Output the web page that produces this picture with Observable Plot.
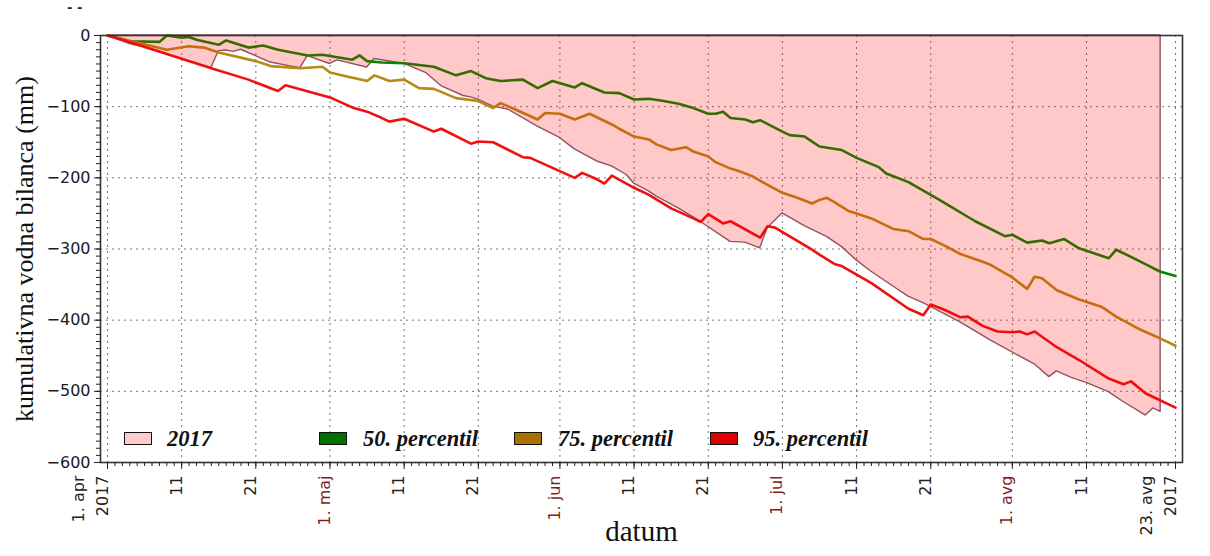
<!DOCTYPE html>
<html>
<head>
<meta charset="utf-8">
<script src="https://cdn.jsdelivr.net/npm/d3@7"></script>
<script src="https://cdn.jsdelivr.net/npm/@observablehq/plot@0.6"></script>
<style>
  html, body { margin: 0; padding: 0; background: #fff; }
  #wrap { position: relative; width: 1210px; height: 556px; }
  .lg-box { position: absolute; width: 26px; height: 11px; border: 1.5px solid #111; }
  .lg-txt { position: absolute; font-family: "Liberation Serif", serif; font-weight: bold; font-style: italic; font-size: 22.5px; line-height: 22px; color: #111; white-space: nowrap; }
</style>
</head>
<body>
<div id="wrap"></div>
<script>
// ---- data (dates as MM-DD in 2017, values in mm) ----
const series2017Dates = ["04-01","04-04","04-06","04-10","04-15","04-16","04-17","04-18","04-19","04-21","04-23","04-26","04-27","04-28","05-01","05-02","05-06","05-07","05-11","05-14","05-16","05-19","05-20","05-21","05-23","05-25","05-29","06-01","06-03","06-06","06-08","06-10","06-11","06-13","06-14","06-17","06-20","06-24","06-26","06-28","06-29","07-01","07-04","07-07","07-09","07-11","07-13","07-16","07-18","07-20","07-25","07-29","08-02","08-04","08-06","08-07","08-09","08-11","08-14","08-16","08-19","08-20","08-21"];
const series2017Values = [0,-12,-17,-30,-46,-22,-21,-23,-20,-29,-38,-44,-46,-29,-40,-35,-45,-33,-40,-53,-71,-85,-87,-90,-100,-104,-128,-144,-160,-177,-184,-196,-208,-219,-226,-243,-262,-290,-291,-299,-271,-250,-268,-283,-297,-316,-332,-353,-367,-376,-403,-428,-451,-462,-480,-472,-481,-488,-501,-515,-534,-524,-529];

const p50Dates = ["04-01","04-04","04-08","04-09","04-11","04-12","04-13","04-16","04-17","04-20","04-22","04-24","04-28","04-30","05-04","05-05","05-06","05-08","05-11","05-15","05-18","05-20","05-22","05-24","05-27","05-29","05-31","06-03","06-04","06-07","06-09","06-11","06-13","06-15","06-17","06-19","06-21","06-22","06-23","06-24","06-26","06-27","06-28","07-01","07-02","07-04","07-06","07-09","07-11","07-14","07-15","07-18","07-22","07-27","07-31","08-01","08-03","08-05","08-06","08-08","08-10","08-14","08-15","08-17","08-20","08-21","08-23"];
const p50Values = [0,-8,-9,0,-3,-2,-6,-13,-7,-17,-14,-20,-28,-27,-34,-28,-36,-38,-39,-44,-56,-50,-60,-64,-62,-74,-64,-73,-67,-80,-81,-90,-89,-92,-96,-102,-110,-110,-107,-116,-118,-122,-119,-135,-140,-142,-156,-161,-172,-185,-194,-206,-230,-261,-282,-280,-291,-288,-292,-286,-299,-313,-301,-311,-327,-332,-338];

const p75Dates = ["04-01","04-09","04-12","04-14","04-16","04-21","04-23","04-27","04-30","05-01","05-03","05-06","05-07","05-09","05-11","05-13","05-15","05-18","05-21","05-23","05-24","05-26","05-29","05-30","06-01","06-03","06-05","06-08","06-09","06-11","06-13","06-14","06-16","06-18","06-19","06-21","06-22","06-24","06-25","06-27","06-29","07-01","07-03","07-05","07-06","07-07","07-08","07-10","07-11","07-13","07-16","07-18","07-20","07-21","07-23","07-25","07-28","07-29","08-01","08-03","08-04","08-05","08-07","08-10","08-13","08-15","08-18","08-21","08-23"];
const p75Values = [0,-20,-15,-17,-24,-36,-43,-46,-44,-52,-57,-64,-56,-64,-62,-74,-75,-88,-92,-102,-95,-104,-118,-109,-110,-118,-110,-125,-131,-142,-146,-153,-161,-157,-163,-170,-178,-187,-190,-198,-210,-221,-228,-236,-231,-228,-234,-247,-250,-257,-272,-275,-286,-286,-296,-307,-318,-322,-340,-356,-339,-341,-358,-371,-381,-395,-412,-426,-436];

const p95Dates = ["04-01","04-04","04-09","04-15","04-20","04-23","04-24","04-25","05-01","05-04","05-06","05-08","05-09","05-11","05-15","05-16","05-20","05-21","05-23","05-27","05-28","06-03","06-04","06-06","06-07","06-08","06-11","06-13","06-16","06-19","06-20","06-21","06-23","06-24","06-28","06-29","06-30","07-05","07-06","07-08","07-09","07-13","07-18","07-20","07-21","07-23","07-25","07-26","07-28","07-30","08-01","08-02","08-03","08-04","08-07","08-10","08-14","08-16","08-17","08-19","08-23"];
const p95Values = [0,-9,-26,-46,-62,-74,-78,-70,-87,-101,-107,-116,-121,-117,-135,-131,-152,-149,-150,-171,-172,-200,-193,-202,-208,-197,-214,-224,-243,-257,-262,-251,-264,-261,-284,-268,-270,-301,-308,-321,-324,-348,-384,-393,-378,-386,-396,-395,-408,-416,-417,-416,-420,-416,-438,-456,-482,-490,-486,-503,-523];

const tickDates = ["04-01","04-11","04-21","05-01","05-11","05-21","06-01","06-11","06-21","07-01","07-11","07-21","08-01","08-11","08-23"];
const tickLabels = ["1. apr\n2017","11","21","1. maj","11","21","1. jun","11","21","1. jul","11","21","1. avg","11","23. avg\n2017"];
const monthStartLabels = ["1. maj","1. jun","1. jul","1. avg"];
const yTicks = [-600,-500,-400,-300,-200,-100,0];
const legendNames = ["2017","50. percentil","75. percentil","95. percentil"];

// ---- helpers ----
const toDate = s => new Date("2017-" + s + "T00:00:00Z");
const rows = (ds, vs) => ds.map((d, i) => ({date: toDate(d), value: vs[i]}));
const d2017 = rows(series2017Dates, series2017Values);
const d50 = rows(p50Dates, p50Values);
const d75 = rows(p75Dates, p75Values);
const d95 = rows(p95Dates, p95Values);
const majors = tickDates.map(toDate);
const dailies = d3.utcDay.range(toDate("04-01"), new Date(toDate("08-23").getTime() + 1));

// x scale: 1 Apr tick at 107px, 23 Aug tick at 1175px, frame from 100 to 1182
const t0 = toDate("04-01").getTime(), t1 = toDate("08-23").getTime();
const msPerPx = (t1 - t0) / (1175 - 107);
const xDomain = [new Date(t0 - 7 * msPerPx), new Date(t1 + 7 * msPerPx)];

const C50 = "#008800", C75 = "#b88a14", C95 = "#ee1111";
const fmtY = d => d < 0 ? "\u2212" + (-d) : String(d);

const chart = Plot.plot({
  width: 1210, height: 556,
  marginLeft: 100, marginRight: 28, marginTop: 35, marginBottom: 94,
  x: {type: "utc", domain: xDomain},
  y: {domain: [-600, 0]},
  style: {fontFamily: "DejaVu Sans", fontSize: "16px", color: "#222", background: "white", overflow: "visible"},
  marks: [
    Plot.gridY(yTicks.filter(v => v > -600 && v < 0), {stroke: "#777", strokeOpacity: 1, strokeDasharray: "2,4", strokeWidth: 1}),
    Plot.gridX(majors, {stroke: "#777", strokeOpacity: 1, strokeDasharray: "2,4", strokeWidth: 1}),
    Plot.areaY(d2017, {x: "date", y: "value", fill: "none", stroke: "#8a5a6e", strokeWidth: 1.4, curve: "linear"}),
    Plot.lineY(d50, {x: "date", y: "value", stroke: C50, strokeWidth: 2.6}),
    Plot.lineY(d75, {x: "date", y: "value", stroke: C75, strokeWidth: 2.6}),
    Plot.lineY(d95, {x: "date", y: "value", stroke: C95, strokeWidth: 2.6}),
    Plot.areaY(d2017, {x: "date", y: "value", fill: "#ff0000", fillOpacity: 0.21}),
    Plot.frame({stroke: "#333", strokeWidth: 1.6}),
    Plot.axisY(d3.range(-600, 1, 10), {tickSize: 4, text: null, stroke: "#222", label: null}),
    Plot.axisY(yTicks, {tickSize: 6, tickPadding: 4, tickFormat: fmtY, fontSize: 16, fill: "#1a1a2a", stroke: "#222", label: null}),
    Plot.axisX(dailies, {tickSize: 4, text: null, stroke: "#222", label: null}),
    Plot.axisX(majors, {tickSize: 7, text: null, stroke: "#222", label: null}),
    Plot.text(majors, {
      x: d => d, frameAnchor: "bottom", dy: 13, rotate: -90, textAnchor: "end",
      text: (d, i) => tickLabels[i], lineHeight: 1.45, fontSize: 16,
      fill: (d, i) => monthStartLabels.includes(tickLabels[i]) ? "#7f1d1d" : "#222"
    }),
    Plot.text(["datum"], {frameAnchor: "bottom", dy: 78, fontFamily: "Liberation Serif", fontSize: 29, fill: "#111"}),
    Plot.text(["kumulativna vodna bilanca (mm)"], {frameAnchor: "left", textAnchor: "middle", dx: -76, rotate: -90, fontFamily: "Liberation Serif", fontSize: 26, fill: "#111"})
  ]
});

const wrap = document.getElementById("wrap");
wrap.appendChild(chart);

// legend drawn inside the plot area
const legendColors = ["#ffcccc", "#007000", "#a87000", "#e00000"];
const legendBoxX = [124, 319, 514, 710];
const legendTxtX = [167, 363, 558, 753];
legendNames.forEach((name, i) => {
  const b = document.createElement("div");
  b.className = "lg-box";
  b.style.left = legendBoxX[i] + "px";
  b.style.top = "432px";
  b.style.background = legendColors[i];
  wrap.appendChild(b);
  const t = document.createElement("div");
  t.className = "lg-txt";
  t.style.left = legendTxtX[i] + "px";
  t.style.top = "428px";
  t.textContent = name;
  wrap.appendChild(t);
});
const stray = document.createElement("div");
stray.textContent = "- -";
stray.style.cssText = "position:absolute;left:67px;top:0px;font:bold 13px 'DejaVu Sans';color:#223;";
wrap.appendChild(stray);
</script>
</body>
</html>
